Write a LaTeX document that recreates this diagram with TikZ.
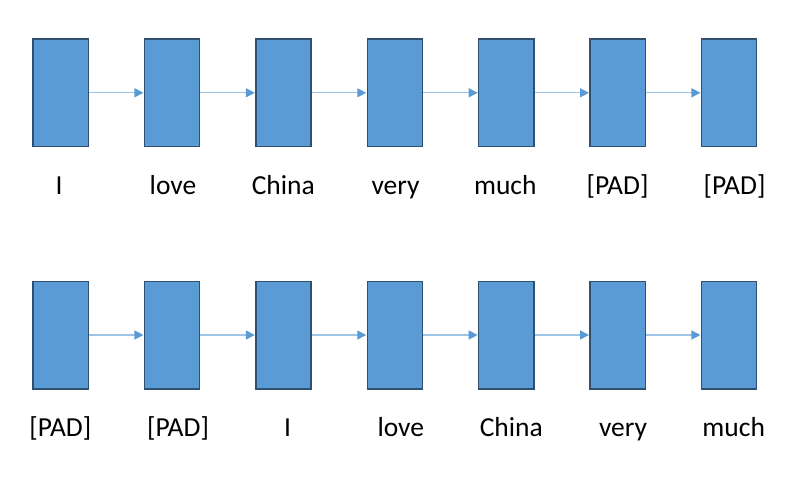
\documentclass[tikz,border=0pt]{standalone}
\usepackage{fontspec}
\setmainfont{Carlito}
\usetikzlibrary{arrows.meta}
\definecolor{boxfill}{HTML}{5B9BD5}
\definecolor{boxline}{HTML}{30506F}
\definecolor{linkline}{HTML}{9DC3E6}
\tikzset{
  tok/.style={draw=boxline, fill=boxfill, line width=1.5pt, minimum width=55.2pt, minimum height=107.5pt, inner sep=0pt},
  link/.style={draw=linkline, line width=1.3pt, -{Triangle[length=9pt,width=9pt,color=boxfill]}, shorten >=0.3pt},
  word/.style={anchor=base, inner sep=0pt, font=\fontsize{27.5pt}{30pt}\selectfont}
}
\begin{document}
\begin{tikzpicture}[x=1pt,y=-1pt]
\useasboundingbox (0,0) rectangle (792,493);
% row 1
\foreach \i in {1,...,7} {
  \node[tok] (a\i) at ({60.7+111.4*(\i-1)},92.8) {};
  \node[tok] (b\i) at ({60.7+111.4*(\i-1)},335) {};
}
\foreach \i [evaluate=\i as \j using int(\i+1)] in {1,...,6} {
  \draw[link] (a\i.east) -- (a\j.west);
  \draw[link] (b\i.east) -- (b\j.west);
}
\node[word] (la1) at (59,194.7) {I};
\node[word] (la2) at (173,194.7) {love};
\node[word] (la3) at (283.3,194.7) {China};
\node[word] (la4) at (395.5,194.7) {very};
\node[word] (la5) at (505.3,194.7) {much};
\node[word] (la6) at (617.5,194.7) {[PAD]};
\node[word] (la7) at (734.5,194.7) {[PAD]};
\node[word] (lb1) at (60.3,436.7) {[PAD]};
\node[word] (lb2) at (178,436.7) {[PAD]};
\node[word] (lb3) at (287.7,436.7) {I};
\node[word] (lb4) at (400.8,436.7) {love};
\node[word] (lb5) at (511.3,436.7) {China};
\node[word] (lb6) at (623,436.7) {very};
\node[word] (lb7) at (733.7,436.7) {much};
\end{tikzpicture}
\end{document}
